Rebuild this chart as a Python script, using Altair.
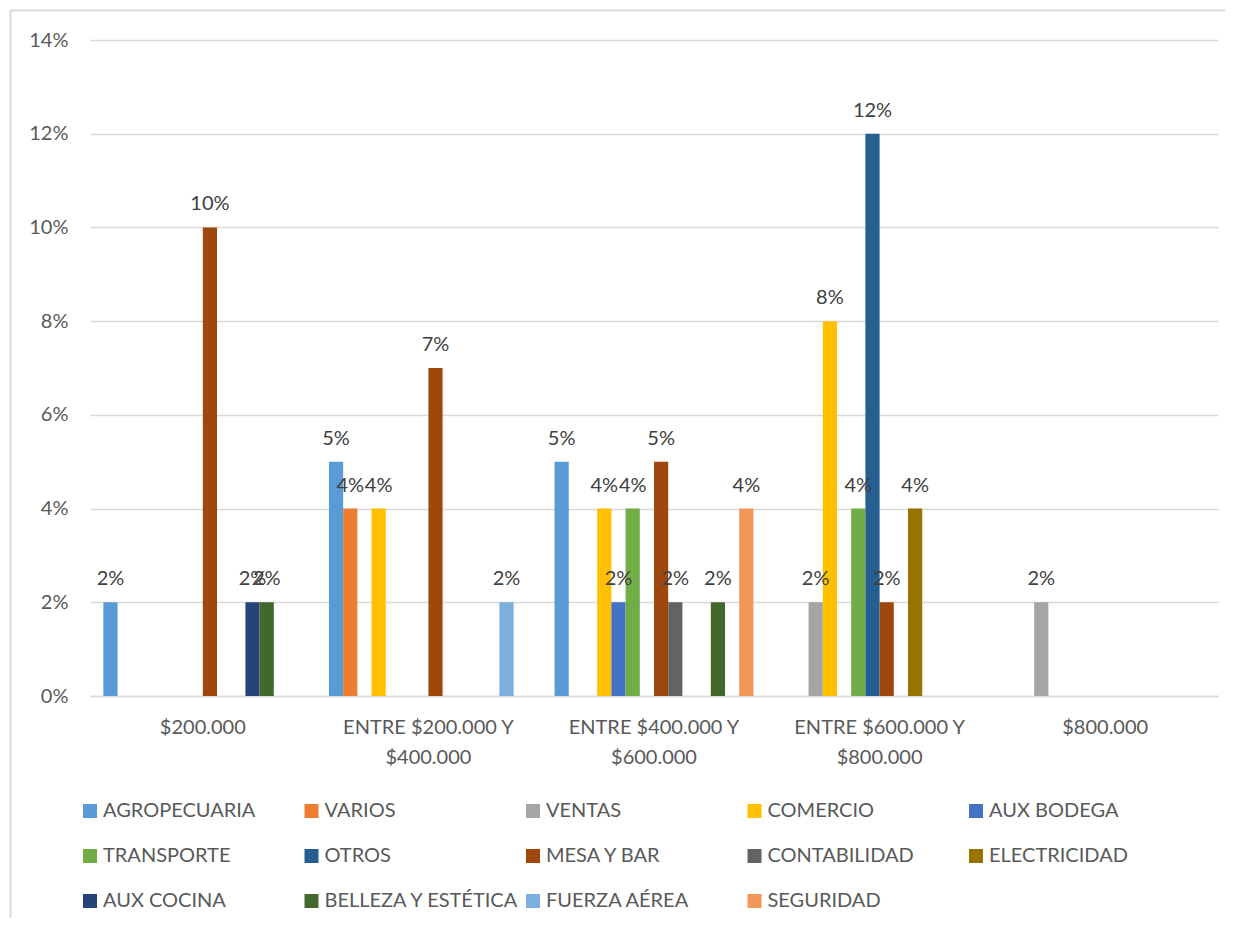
import altair as alt
import pandas as pd

categories = ["$200.000", "ENTRE $200.000 Y $400.000", "ENTRE $400.000 Y $600.000",
              "ENTRE $600.000 Y $800.000", "$800.000"]
series = ["AGROPECUARIA", "VARIOS", "VENTAS", "COMERCIO", "AUX BODEGA",
          "TRANSPORTE", "OTROS", "MESA Y BAR", "CONTABILIDAD", "ELECTRICIDAD",
          "AUX COCINA", "BELLEZA Y ESTÉTICA", "FUERZA AÉREA", "SEGURIDAD"]
colors = ["#5B9BD5", "#ED7D31", "#A5A5A5", "#FFC000", "#4472C4",
          "#70AD47", "#255E91", "#9E480E", "#636363", "#997300",
          "#264478", "#43682B", "#7CAFDD", "#F1975A"]

# values per series, one per category (None = no bar)
agropecuaria = [0.02, 0.05, 0.05, None, None]
varios = [None, 0.04, None, None, None]
ventas = [None, None, None, 0.02, 0.02]
comercio = [None, 0.04, 0.04, 0.08, None]
aux_bodega = [None, None, 0.02, None, None]
transporte = [None, None, 0.04, 0.04, None]
otros = [None, None, None, 0.12, None]
mesa_y_bar = [0.10, 0.07, 0.05, 0.02, None]
contabilidad = [None, None, 0.02, None, None]
electricidad = [None, None, None, 0.04, None]
aux_cocina = [0.02, None, None, None, None]
belleza = [0.02, None, 0.02, None, None]
fuerza_aerea = [None, 0.02, None, None, None]
seguridad = [None, None, 0.04, None, None]

values = [agropecuaria, varios, ventas, comercio, aux_bodega, transporte, otros,
          mesa_y_bar, contabilidad, electricidad, aux_cocina, belleza,
          fuerza_aerea, seguridad]

rows = []
for s, vals in zip(series, values):
    for c, v in zip(categories, vals):
        if v is not None:
            rows.append({"cat": c, "serie": s, "val": v})
df = pd.DataFrame(rows)

FONT = "Lato"
W, H = 1128, 656

x = alt.X("cat:N", sort=categories, title=None,
          scale=alt.Scale(domain=categories, paddingInner=0, paddingOuter=0),
          axis=alt.Axis(labelAngle=0, labelFont=FONT, labelFontSize=20,
                        labelColor="#595959", ticks=False, tickSize=0,
                        labelPadding=21, labelLineHeight=30, grid=False,
                        domainColor="#D9D9D9", domainWidth=1.5,
                        labelExpr="split(replace(datum.label, ' Y ', ' Y|'), '|')"))
xo = alt.XOffset("serie:N", sort=series,
                 scale=alt.Scale(domain=series, paddingOuter=0.94, paddingInner=0))
y = alt.Y("val:Q", title=None,
          scale=alt.Scale(domain=[0, 0.14], nice=False),
          axis=alt.Axis(values=[0, 0.02, 0.04, 0.06, 0.08, 0.10, 0.12, 0.14],
                        format=".0%", labelFont=FONT, labelFontSize=20,
                        labelColor="#595959", ticks=False, tickSize=0,
                        labelPadding=22, domain=False, gridColor="#D9D9D9",
                        gridWidth=1.5))

color = alt.Color("serie:N", sort=series,
                  scale=alt.Scale(domain=series, range=colors),
                  legend=alt.Legend(title=None, orient="none", legendX=-10, legendY=761,
                                    direction="horizontal",
                                    columns=5, gridAlign="all", symbolType="square",
                                    symbolSize=196, symbolStrokeWidth=0,
                                    labelFont=FONT, labelFontSize=20,
                                    labelColor="#595959", labelOffset=3,
                                    columnPadding=3.5, rowPadding=25, padding=0,
                                    labelLimit=400))

bars = alt.Chart(df).mark_bar().encode(x=x, xOffset=xo, y=y, color=color)

labels = alt.Chart(df).mark_text(font=FONT, fontSize=20, color="#404040",
                                 baseline="alphabetic", dy=-17).encode(
    x=x, xOffset=xo, y=y, text=alt.Text("val:Q", format=".0%"))

frame_data = alt.Data(values=[{"k": 1}])
top_line = alt.Chart(frame_data).mark_rule(color="#D9D9D9", strokeWidth=2).encode(
    x=alt.value(-79.5), x2=alt.value(1135), y=alt.value(-29.5))
left_line = alt.Chart(frame_data).mark_rule(color="#D9D9D9", strokeWidth=2).encode(
    x=alt.value(-79.5), y=alt.value(-29.5), y2=alt.value(878))

chart = alt.layer(top_line, left_line, bars, labels).properties(
    width=W, height=H,
    background="white",
    autosize=alt.AutoSizeParams(type="none"),
    padding={"left": 82, "top": 32, "right": 7, "bottom": 222},
).configure_view(stroke=None, strokeWidth=0)

chart.save("out.html", embed_options={"renderer": "svg", "actions": False})
